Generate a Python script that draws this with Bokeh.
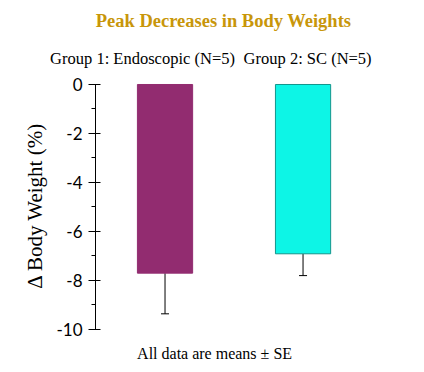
import math
from bokeh.plotting import figure
from bokeh.models import Range1d, Whisker, TeeHead, ColumnDataSource, FixedTicker, LinearAxis
from bokeh.core.properties import value
from bokeh.embed import file_html
from bokeh.resources import INLINE

groups = ["Group 1: Endoscopic (N=5)", "Group 2: SC (N=5)"]
positions = [1.0, 2.0]
means = [-7.70, -6.91]
se = [1.66, 0.89]
colors = ["#922C70", "#0DF5E6"]
outlines = ["#922C70", "#13958C"]
y_ticks = [0, -2, -4, -6, -8, -10]
minor_ticks = [-1, -3, -5, -7, -9]

p = figure(width=420, height=368, output_backend="svg", toolbar_location=None,
           x_range=Range1d(-0.192, 2.851), y_range=Range1d(-11.592, 3.4286),
           min_border=0, x_axis_type=None, y_axis_type=None)
p.outline_line_color = None
p.grid.visible = False

src = ColumnDataSource(dict(x=positions, top=[0, 0], bottom=means, color=colors, line=outlines,
                            lower=[m - s for m, s in zip(means, se)]))
p.vbar(x="x", top="top", bottom="bottom", width=0.4, fill_color="color", line_color="line",
       line_width=1, source=src)
w = Whisker(source=src, base="x", upper="bottom", lower="lower", line_color="black", line_width=1,
            upper_head=None, lower_head=TeeHead(size=8, line_color="black", line_width=1))
p.add_layout(w)

ax = LinearAxis(fixed_location=0.4964, bounds=(min(y_ticks), max(y_ticks)))
ax.ticker = FixedTicker(ticks=y_ticks, minor_ticks=minor_ticks)
ax.major_label_overrides = {t: str(t) for t in y_ticks}
ax.major_tick_out = 7
ax.major_tick_in = 5
ax.minor_tick_out = 4
ax.minor_tick_in = 0
ax.axis_line_color = "black"
ax.major_tick_line_color = "black"
ax.minor_tick_line_color = "black"
ax.major_label_text_font = "Lato"
ax.major_label_text_font_size = "17px"
ax.major_label_text_color = "black"
ax.major_label_standoff = 6
p.add_layout(ax, "left")

serif = value("Liberation Serif")
p.text(x=[1.424], y=[2.61], text=["Peak Decreases in Body Weights"], text_align="center",
       text_baseline="middle", text_font=serif, text_font_style="bold",
       text_font_size="18.5px", text_color="#C8960A")
p.text(x=[0.837, 2.033], y=[1.06, 1.06], text=groups, text_align="center",
       text_baseline="middle", text_font=serif, text_font_size="16.5px", text_color="black")
p.text(x=[1.359], y=[-10.98], text=["All data are means ± SE"], text_align="center",
       text_baseline="middle", text_font=serif, text_font_size="16px", text_color="black")
p.text(x=[0.0601], y=[-4.94], text=["Δ Body Weight (%)"], angle=math.pi / 2, text_align="center",
       text_baseline="middle", text_font=serif, text_font_size="21px", text_color="black")

open("out.html", "w").write(file_html(p, INLINE))
